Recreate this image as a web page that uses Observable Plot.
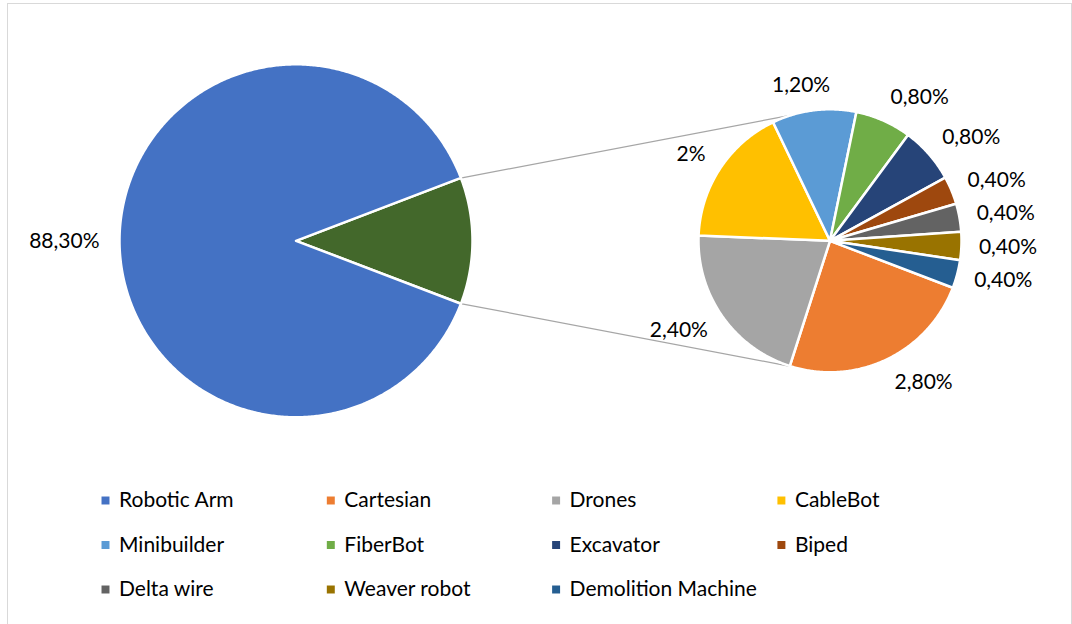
<!DOCTYPE html>
<html>
<head>
<meta charset="utf-8">
<script src="https://cdn.jsdelivr.net/npm/d3@7"></script>
<script src="https://cdn.jsdelivr.net/npm/@observablehq/plot@0.6"></script>
<style>
  html, body { margin: 0; padding: 0; background: #fff; overflow: hidden; }
  #chart { position: absolute; left: 0; top: 0; }
  #frame { position: absolute; left: 7px; top: 3px; width: 1063px; height: 660px;
           border: 1px solid #d9d9d9; pointer-events: none; z-index: 2; }
</style>
</head>
<body>
<div id="chart"></div>
<div id="frame"></div>
<script>
// ---------- data ----------
const mainCategories = ["Robotic Arm", "Other"];
const mainValue = 88.3;           // Robotic Arm share (%)
const mainLabel = "88,30%";

const subCategories = ["Cartesian", "Drones", "CableBot", "Minibuilder", "FiberBot",
                       "Excavator", "Biped", "Delta wire", "Weaver robot", "Demolition Machine"];
const subValues = [2.8, 2.4, 2.0, 1.2, 0.8, 0.8, 0.4, 0.4, 0.4, 0.4];
const subLabels = ["2,80%", "2,40%", "2%", "1,20%", "0,80%", "0,80%", "0,40%", "0,40%", "0,40%", "0,40%"];

const legendOrder = ["Robotic Arm", "Cartesian", "Drones", "CableBot", "Minibuilder", "FiberBot",
                     "Excavator", "Biped", "Delta wire", "Weaver robot", "Demolition Machine"];
const seriesColors = ["#4472C4", "#ED7D31", "#A5A5A5", "#FFC000", "#5B9BD5", "#70AD47",
                      "#264478", "#9E480E", "#636363", "#997300", "#255E91"];
const otherColor = "#43682B";

// ---------- layout ----------
const W = 1072, H = 624;
const mainC = {x: 295.5, y: 240.3, r: 176.5};
const subC  = {x: 829.5, y: 240.3, r: 131.5};
const labelGapMain = 20, labelGapSub = 17.5;
const connectorSpread = 17 * Math.PI / 180;
const FONT = "Lato, 'Open Sans', sans-serif";
const FS = 21;
const legend = {x0: 105, y0: 500, dx: 225.3, dy: 44.5, textOffset: 13.5};

// ---------- geometry from data ----------
const otherValue = d3.sum(subValues);
const mainData = [
  {cat: "Other", value: otherValue},
  {cat: "Robotic Arm", value: mainValue}
];
const total = mainValue + otherValue;
const otherAngle = 2 * Math.PI * otherValue / total;
const mainStart = Math.PI / 2 - otherAngle / 2;
const mainArcs = d3.pie().sort(null).value(d => d.value)
  .startAngle(mainStart).endAngle(mainStart + 2 * Math.PI)(mainData);

const subStart = Math.PI / 2 + otherAngle / 2;
const subData = subCategories.map((c, i) => ({cat: c, value: subValues[i], label: subLabels[i]}));
const subArcs = d3.pie().sort(null).value(d => d.value)
  .startAngle(subStart).endAngle(subStart + 2 * Math.PI)(subData);

function polar(c, r, a) { return [c.x + r * Math.sin(a), c.y - r * Math.cos(a)]; }

function slicePoints(arc, c) {
  const pts = [{cat: arc.data.cat, x: c.x, y: c.y}];
  const n = Math.max(2, Math.ceil((arc.endAngle - arc.startAngle) / (0.5 * Math.PI / 180)));
  for (let k = 0; k <= n; k++) {
    const a = arc.startAngle + (arc.endAngle - arc.startAngle) * k / n;
    const [x, y] = polar(c, c.r, a);
    pts.push({cat: arc.data.cat, x, y});
  }
  return pts;
}
const slicePts = [
  ...mainArcs.flatMap(a => slicePoints(a, mainC)),
  ...subArcs.flatMap(a => slicePoints(a, subC))
];

// text measurement (for outside-end label placement)
const ctx = document.createElement("canvas").getContext("2d");
ctx.font = `${FS}px Lato`;
function labelPos(c, gap, mid, text) {
  const w = ctx.measureText(text).width, h = 16;
  const ux = Math.sin(mid), uy = -Math.cos(mid);
  const D = c.r + gap;
  const kx = Math.max(-1, Math.min(1, ux * 3));
  return {x: c.x + ux * D + kx * w / 2, y: c.y + uy * D + uy * h / 2, text};
}
const mid = a => (a.startAngle + a.endAngle) / 2;
const robotArc = mainArcs.find(a => a.data.cat === "Robotic Arm");
const labels = [
  labelPos(mainC, labelGapMain, mid(robotArc), mainLabel),
  ...subArcs.map(a => labelPos(subC, labelGapSub, mid(a), a.data.label))
];

// connector lines
const otherArc = mainArcs.find(a => a.data.cat === "Other");
const [ux1, uy1] = polar(mainC, mainC.r, otherArc.startAngle);
const [lx1, ly1] = polar(mainC, mainC.r, otherArc.endAngle);
const [ux2, uy2] = polar(subC, subC.r, 2 * Math.PI - connectorSpread);
const [lx2, ly2] = polar(subC, subC.r, Math.PI + connectorSpread);
const connectors = [
  {x1: ux1 + 1, y1: uy1, x2: ux2, y2: uy2},
  {x1: lx1 + 1, y1: ly1, x2: lx2, y2: ly2}
];

// legend
const legendData = legendOrder.map((name, i) => ({
  name,
  x: legend.x0 + (i % 4) * legend.dx,
  y: legend.y0 + Math.floor(i / 4) * legend.dy
}));

const chart = Plot.plot({
  width: W, height: H, margin: 0,
  x: {domain: [0, W], range: [0, W], axis: null},
  y: {domain: [0, H], range: [0, H], axis: null},
  color: {domain: [...legendOrder, "Other"], range: [...seriesColors, otherColor]},
  style: {fontFamily: FONT, fontSize: FS + "px", background: "transparent", overflow: "visible"},
  marks: [
    Plot.link(connectors, {x1: "x1", y1: "y1", x2: "x2", y2: "y2", stroke: "#a6a6a6", strokeWidth: 1.3}),
    Plot.line(slicePts, {x: "x", y: "y", z: "cat", fill: "cat", stroke: "white",
                         strokeWidth: 2.5, strokeLinejoin: "round", curve: "linear-closed"}),
    Plot.text(labels, {x: "x", y: "y", text: "text", fill: "#000", fontSize: FS,
                       textAnchor: "middle", lineAnchor: "middle"}),
    Plot.dot(legendData, {x: "x", y: "y", fill: "name", symbol: "square", r: 4.5}),
    Plot.text(legendData, {x: d => d.x + legend.textOffset, y: "y", text: "name", fill: "#000",
                           fontSize: FS, textAnchor: "start", lineAnchor: "middle"})
  ]
});
document.getElementById("chart").appendChild(chart);
</script>
</body>
</html>
